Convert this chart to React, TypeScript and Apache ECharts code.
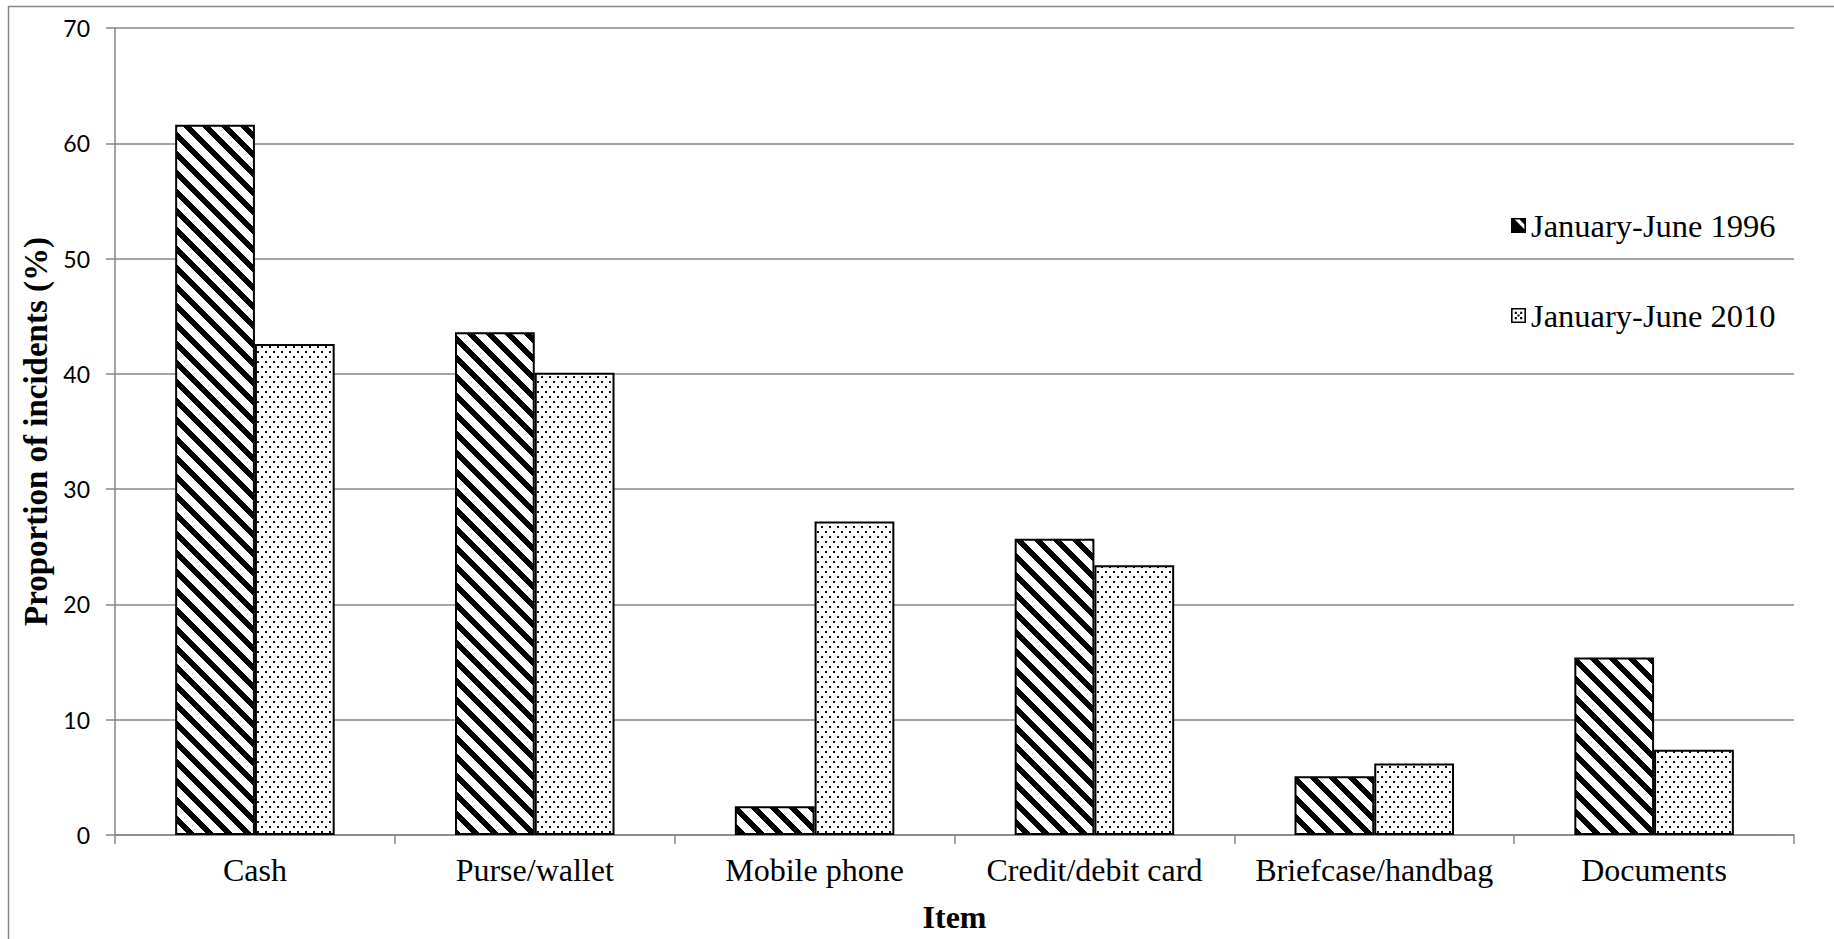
import React, { useEffect, useRef } from "react";
import * as echarts from "echarts";

// Items stolen, share of incidents (%)
const categories = [
  "Cash",
  "Purse/wallet",
  "Mobile phone",
  "Credit/debit card",
  "Briefcase/handbag",
  "Documents",
];
const seriesNames = ["January-June 1996", "January-June 2010"];
const values1996 = [61.6, 43.6, 2.5, 25.7, 5.1, 15.4];
const values2010 = [42.6, 40.1, 27.2, 23.4, 6.2, 7.4];
const yMin = 0;
const yMax = 70;
const yStep = 10;

const SERIF = "'Liberation Serif', 'Times New Roman', serif";
const SANS = "Lato, 'Noto Sans', sans-serif";
const GRAY = "#868686";

// Wide downward-diagonal hatch tile
function makeHatch(): HTMLCanvasElement {
  const p = 19;
  const w = 8;
  const c = document.createElement("canvas");
  c.width = p;
  c.height = p;
  const ctx = c.getContext("2d")!;
  const img = ctx.createImageData(p, p);
  for (let y = 0; y < p; y++) {
    for (let x = 0; x < p; x++) {
      const k = (((x - y) % p) + p) % p;
      const v = k < w ? 0 : 255;
      const i = (y * p + x) * 4;
      img.data[i] = v;
      img.data[i + 1] = v;
      img.data[i + 2] = v;
      img.data[i + 3] = 255;
    }
  }
  ctx.putImageData(img, 0, 0);
  return c;
}

// Staggered dot tile
function makeDots(): HTMLCanvasElement {
  const c = document.createElement("canvas");
  c.width = 8;
  c.height = 10;
  const ctx = c.getContext("2d")!;
  ctx.fillStyle = "#fff";
  ctx.fillRect(0, 0, 8, 10);
  ctx.fillStyle = "#111";
  ctx.fillRect(1, 1, 2, 2);
  ctx.fillRect(5, 6, 2, 2);
  return c;
}

const frame = "M0 0H14V14H0Z M1.5 1.5V12.5H12.5V1.5Z";
const hatchIcon =
  "path://" +
  frame +
  " M1.5 1.5H3.5L12.5 10.5V12.5H1.5Z M8 1.5H12.5V6Z";
const dotsIcon =
  "path://" +
  frame +
  " M3.5 3.5h2v2h-2Z M8.5 3.5h2v2h-2Z M6 6h2v2h-2Z M3.5 8.5h2v2h-2Z M8.5 8.5h2v2h-2Z";

export default function App() {
  const ref = useRef<HTMLDivElement>(null);

  useEffect(() => {
    if (!ref.current) return;
    const chart = echarts.init(ref.current, undefined, { renderer: "svg" });
    const hatch = makeHatch();
    const dots = makeDots();

    chart.setOption({
      animation: false,
      backgroundColor: "#fff",
      graphic: [
        {
          type: "rect",
          shape: { x: 8.5, y: 6.5, width: 1900, height: 1000 },
          style: { fill: "none", stroke: GRAY, lineWidth: 1.5 },
          silent: true,
          z: -1,
        },
      ],
      grid: { left: 115, right: 40, top: 28, bottom: 104, containLabel: false },
      legend: {
        orient: "vertical",
        left: 1506,
        top: 204,
        itemWidth: 15,
        itemHeight: 15,
        itemGap: 57,
        textStyle: {
          fontFamily: SERIF,
          fontSize: 32.5,
          color: "#000",
        },
        data: [
          { name: seriesNames[0], icon: hatchIcon, itemStyle: { color: "#000", borderWidth: 0 } },
          { name: seriesNames[1], icon: dotsIcon, itemStyle: { color: "#000", borderWidth: 0 } },
        ],
      },
      xAxis: {
        type: "category",
        data: categories,
        name: "Item",
        nameLocation: "middle",
        nameGap: 66,
        nameTextStyle: { fontFamily: SERIF, fontSize: 32, fontWeight: "bold", color: "#000" },
        axisLine: { lineStyle: { color: GRAY, width: 1.5 } },
        axisTick: { show: true, length: 9, lineStyle: { color: GRAY, width: 1.5 } },
        axisLabel: { interval: 0, fontFamily: SERIF, fontSize: 32, color: "#000", margin: 19 },
      },
      yAxis: {
        type: "value",
        min: yMin,
        max: yMax,
        interval: yStep,
        name: "Proportion of incidents (%)",
        nameLocation: "middle",
        nameGap: 58,
        nameTextStyle: { fontFamily: SERIF, fontSize: 33, fontWeight: "bold", color: "#000" },
        axisLine: { show: true, lineStyle: { color: GRAY, width: 1.5 } },
        axisTick: { show: true, length: 9, lineStyle: { color: GRAY, width: 1.5 } },
        axisLabel: { fontFamily: SANS, fontSize: 23, color: "#000", margin: 25 },
        splitLine: { lineStyle: { color: GRAY, width: 1.5 } },
      },
      series: [
        {
          name: seriesNames[0],
          type: "bar",
          data: values1996,
          barGap: "0%",
          barCategoryGap: "43%",
          itemStyle: {
            color: { image: hatch, repeat: "repeat", imageWidth: 19, imageHeight: 19 },
            borderColor: "#000",
            borderWidth: 2,
          },
        },
        {
          name: seriesNames[1],
          type: "bar",
          data: values2010,
          barGap: "0%",
          barCategoryGap: "43%",
          itemStyle: {
            color: { image: dots, repeat: "repeat", imageWidth: 8, imageHeight: 10 },
            borderColor: "#000",
            borderWidth: 2,
          },
        },
      ],
    });

    return () => chart.dispose();
  }, []);

  return (
    <div
      ref={ref}
      style={{ position: "absolute", left: 0, top: 0, width: 1834, height: 939 }}
    />
  );
}
